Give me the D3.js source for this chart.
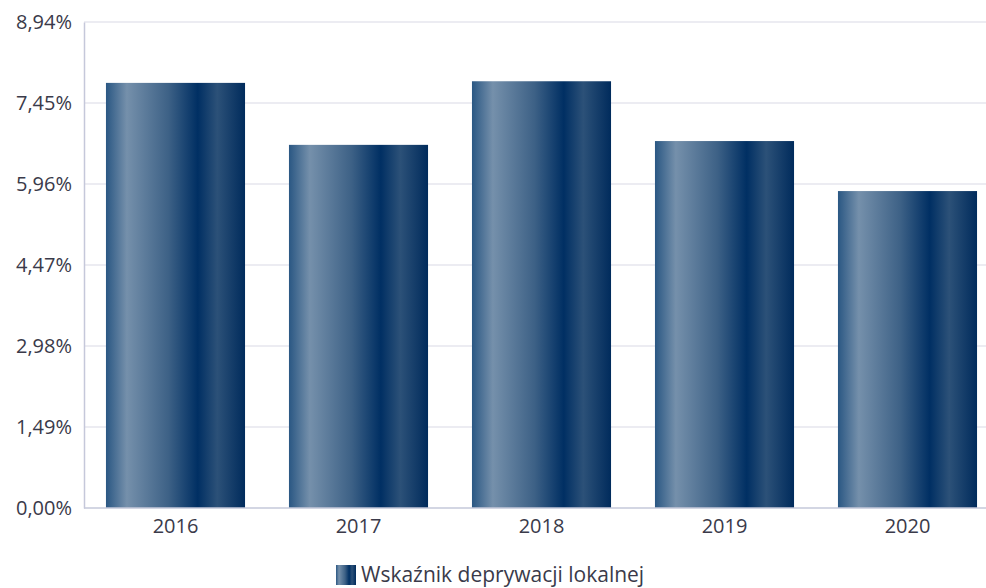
<!DOCTYPE html>
<html><head><meta charset="utf-8">
<script src="https://cdn.jsdelivr.net/npm/d3@7"></script>
<style>body{margin:0;background:#fff}svg{display:block}</style>
</head><body>
<script>
const categories = ["2016","2017","2018","2019","2020"];
const values = [7.82, 6.68, 7.85, 6.75, 5.83];
const yTicks = [0, 1.49, 2.98, 4.47, 5.96, 7.45, 8.94];
const seriesName = "Wskaźnik deprywacji lokalnej";

(function(){
const W = 986, H = 588;
const svg = d3.select("body").append("svg").attr("width", W).attr("height", H);
const defs = svg.append("defs");
const grad = defs.append("linearGradient").attr("id","g").attr("x1","0").attr("x2","1").attr("y1","0").attr("y2","0");
[[0,"#2a5783"],[0.15,"#7590ab"],[0.45,"#3d6186"],[0.66,"#002f63"],[0.8,"#2c5178"],[1,"#002b5c"]]
  .forEach(([o,c])=>grad.append("stop").attr("offset",o).attr("stop-color",c));

const mLeft = 84, mTop = 22, mBottom = 508, mRight = 986;
const x = d3.scaleBand().domain(categories).range([mLeft, 999]).paddingInner(0.24).paddingOuter(0.12);
const y = d3.scaleLinear().domain([0, 8.94]).range([mBottom, mTop]);
const font = "'Open Sans', sans-serif";
const fmt = d => d.toFixed(2).replace(".", ",") + "%";

svg.append("g").selectAll("line").data(yTicks.filter(d=>d>0)).join("line")
  .attr("x1", mLeft).attr("x2", mRight).attr("y1", d=>y(d)).attr("y2", d=>y(d))
  .attr("stroke","#e6e6ee").attr("stroke-width",1.5);

svg.append("g").selectAll("rect").data(values).join("rect")
  .attr("x",(d,i)=>x(categories[i])).attr("width",x.bandwidth())
  .attr("y",d=>y(d)).attr("height",d=>mBottom-y(d)).attr("fill","url(#g)");

const ya = svg.append("g").attr("transform",`translate(${mLeft},0)`)
  .call(d3.axisLeft(y).tickValues(yTicks).tickFormat(fmt).tickSize(0).tickPadding(12));
ya.select(".domain").attr("stroke","#c5c8da").attr("stroke-width",1.5);
ya.attr("font-family",font).attr("font-size",20);
ya.selectAll("text").attr("fill","#3a3a4a");

const xa = svg.append("g").attr("transform",`translate(0,${mBottom})`)
  .call(d3.axisBottom(x).tickSize(0).tickPadding(11));
xa.select(".domain").remove();
xa.append("line").attr("x1",mLeft).attr("x2",mRight).attr("stroke","#c5c8da").attr("stroke-width",1.5);
xa.attr("font-family",font).attr("font-size",20);
xa.selectAll("text").attr("fill","#3a3a4a");

const lg = svg.append("g").attr("transform","translate(336,565)");
lg.append("rect").attr("width",20).attr("height",20).attr("fill","url(#g)");
lg.append("text").attr("x",25).attr("y",17).text(seriesName)
  .attr("font-family",font).attr("font-size",21).attr("fill","#3a3a4a");
})();
</script>
</body></html>
